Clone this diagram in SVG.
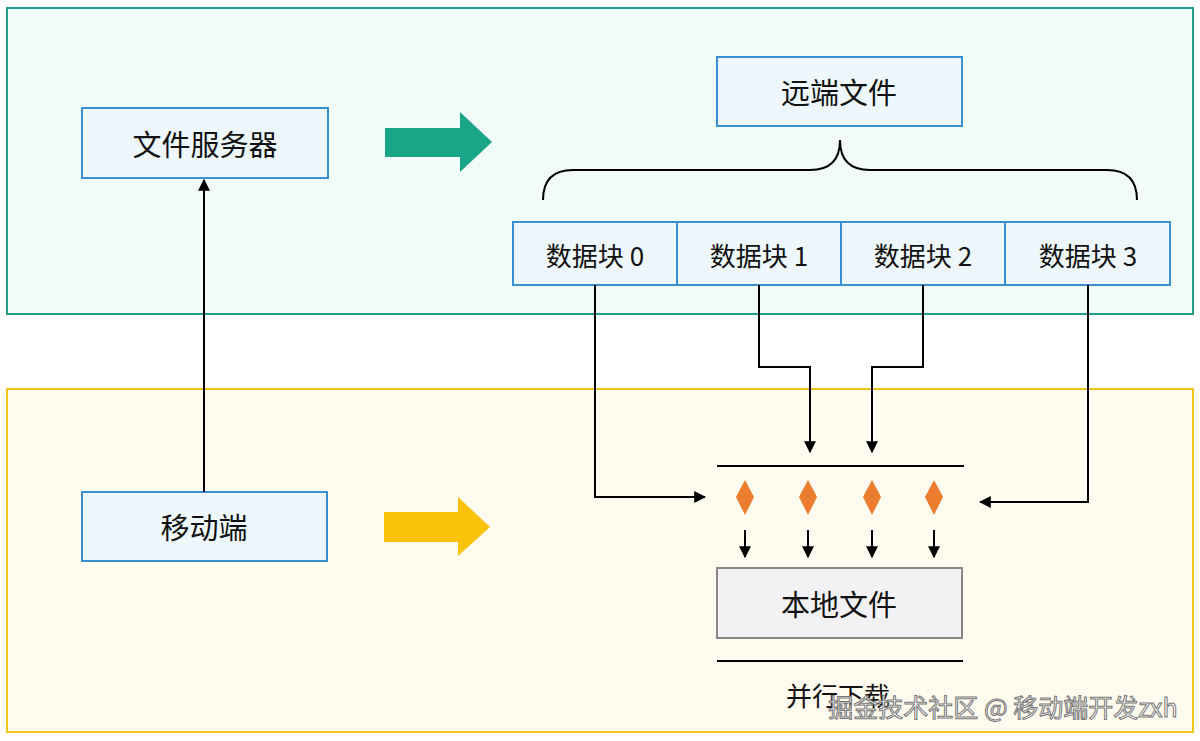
<svg xmlns="http://www.w3.org/2000/svg" width="1200" height="741" viewBox="0 0 1200 741">
<defs>
<style>
text{font-family:"Noto Sans CJK SC","Noto Sans",sans-serif;fill:#111;text-anchor:middle;dominant-baseline:central}
.n{fill:#eef8fc;stroke:#3a8fd0;stroke-width:2}
.c{fill:none;stroke:#000;stroke-width:2}
.d{fill:#ec7d2e}
</style>
<marker id="a" viewBox="0 0 10 10" refX="9" refY="5" markerWidth="6" markerHeight="6" orient="auto"><path d="M0,0L10,5L0,10z" fill="#000"/></marker>
</defs>
<rect x="7" y="8" width="1186" height="306" fill="#f1fbf8" stroke="#1f9e8c" stroke-width="2"/>
<rect x="7" y="389" width="1186" height="343" fill="#fffbef" stroke="#f0c419" stroke-width="2"/>
<g id="server"><rect class="n" x="82" y="108" width="246" height="70"/><text x="205" y="143" font-size="29">文件服务器</text></g>
<g id="remote"><rect class="n" x="717" y="57" width="245" height="69"/><text x="839" y="91" font-size="29">远端文件</text></g>
<g id="b0"><rect class="n" x="513" y="222" width="164" height="63"/><text x="595" y="254" font-size="26">数据块 0</text></g>
<g id="b1"><rect class="n" x="677" y="222" width="164" height="63"/><text x="759" y="254" font-size="26">数据块 1</text></g>
<g id="b2"><rect class="n" x="841" y="222" width="164" height="63"/><text x="923" y="254" font-size="26">数据块 2</text></g>
<g id="b3"><rect class="n" x="1005" y="222" width="165" height="63"/><text x="1088" y="254" font-size="26">数据块 3</text></g>
<g id="mobile"><rect class="n" x="82" y="492" width="245" height="69"/><text x="204" y="526" font-size="29">移动端</text></g>
<g id="local"><rect x="717" y="568" width="245" height="70" fill="#f2f2f4" stroke="#888" stroke-width="2"/><text x="839" y="603" font-size="29">本地文件</text></g>
<path d="M543,200 Q543,170 573,170 L810,170 Q840,170 840,140 Q840,170 870,170 L1107,170 Q1137,170 1137,200" class="c"/>
<path d="M385,128H460V112L492,142L460,172V157H385z" fill="#1aa488"/>
<path d="M384,512H458V497L490,527L458,556V542H384z" fill="#fbc20a"/>
<line x1="717" y1="466" x2="964" y2="466" class="c"/>
<line x1="717" y1="661" x2="963" y2="661" class="c"/>
<g id="diamonds">
<path class="d" d="M745,480L754,497L745,515L736,497z"/>
<path class="d" d="M808,480L817,497L808,515L799,497z"/>
<path class="d" d="M872,480L881,497L872,515L863,497z"/>
<path class="d" d="M934,480L943,497L934,515L925,497z"/>
</g>
<g id="connectors" class="c" marker-end="url(#a)">
<path d="M204,492V180"/>
<path d="M595,285V497H705"/>
<path d="M759,285V367H810V452"/>
<path d="M923,285V367H872V452"/>
<path d="M1088,285V502H980"/>
<path d="M745,530V557"/>
<path d="M808,530V557"/>
<path d="M872,530V557"/>
<path d="M934,530V557"/>
</g>
<text x="838" y="694" font-size="26">并行下载</text>
<text x="1003" y="706" font-size="25" style="fill:#fff;stroke:#777;stroke-width:1">掘金技术社区 @ 移动端开发zxh</text>
</svg>
